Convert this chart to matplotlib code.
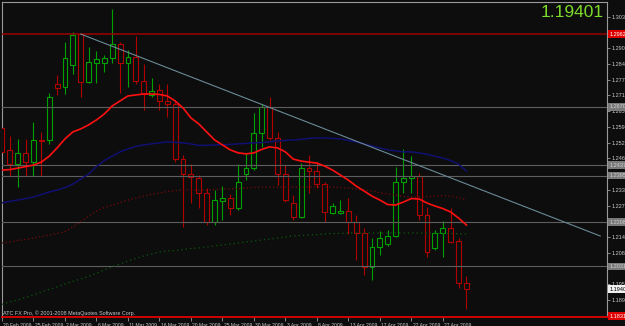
import matplotlib
matplotlib.use("Agg")
import matplotlib.pyplot as plt
import matplotlib.transforms as mtrans
from matplotlib.transforms import blended_transform_factory

# ---------------- data ----------------
opens = [1.2586, 1.2498, 1.2441, 1.2486, 1.2449, 1.2538, 1.2538, 1.2761, 1.2749, 1.2838,
         1.2961, 1.2769, 1.2845, 1.2845, 1.2865, 1.2921, 1.2845, 1.2869, 1.2774, 1.2718,
         1.2738, 1.2694, 1.2681, 1.2460, 1.2401, 1.2384, 1.2324, 1.2208, 1.2293, 1.2306,
         1.2266, 1.2400, 1.2424, 1.2564, 1.2669, 1.2547, 1.2401, 1.2284, 1.2230, 1.2427,
         1.2413, 1.2360, 1.2246, 1.2246, 1.2253, 1.2210, 1.2164, 1.2030, 1.2108, 1.2121,
         1.2154, 1.2371, 1.2384, 1.2395, 1.2237, 1.2104, 1.2164, 1.2184, 1.2134, 1.1964]
highs = [1.2602, 1.2554, 1.2542, 1.2542, 1.2610, 1.2570, 1.2726, 1.2798, 1.2929, 1.2971,
         1.2963, 1.2911, 1.2894, 1.2878, 1.3061, 1.2931, 1.2898, 1.2954, 1.2841, 1.2785,
         1.2761, 1.2761, 1.2698, 1.2477, 1.2441, 1.2397, 1.2345, 1.2337, 1.2353, 1.2321,
         1.2440, 1.2484, 1.2645, 1.2682, 1.2711, 1.2571, 1.2437, 1.2317, 1.2444, 1.2477,
         1.2451, 1.2369, 1.2284, 1.2297, 1.2304, 1.2237, 1.2184, 1.2144, 1.2174, 1.2177,
         1.2431, 1.2502, 1.2473, 1.2405, 1.2269, 1.2177, 1.2214, 1.2265, 1.2145, 1.1993]
lows = [1.2473, 1.2393, 1.2349, 1.2393, 1.2393, 1.2393, 1.2522, 1.2718, 1.2721, 1.2802,
        1.2711, 1.2765, 1.2765, 1.2811, 1.2845, 1.2725, 1.2749, 1.2762, 1.2658, 1.2709,
        1.2658, 1.2630, 1.2449, 1.2188, 1.2286, 1.2266, 1.2197, 1.2197, 1.2217, 1.2237,
        1.2257, 1.2377, 1.2417, 1.2511, 1.2538, 1.2357, 1.2289, 1.2217, 1.2225, 1.2324,
        1.2344, 1.2210, 1.2241, 1.2241, 1.2161, 1.2057, 1.1997, 1.1977, 1.2077, 1.2113,
        1.2148, 1.2324, 1.2324, 1.2217, 1.2070, 1.2097, 1.2070, 1.2124, 1.1943, 1.1859]
closes = [1.2490, 1.2441, 1.2486, 1.2449, 1.2538, 1.2534, 1.2711, 1.2747, 1.2865, 1.2958,
          1.2769, 1.2849, 1.2861, 1.2865, 1.2921, 1.2845, 1.2869, 1.2774, 1.2722, 1.2734,
          1.2694, 1.2681, 1.2460, 1.2401, 1.2388, 1.2324, 1.2208, 1.2297, 1.2306, 1.2264,
          1.2371, 1.2424, 1.2564, 1.2669, 1.2544, 1.2401, 1.2297, 1.2230, 1.2427, 1.2413,
          1.2360, 1.2250, 1.2273, 1.2253, 1.2210, 1.2164, 1.2030, 1.2110, 1.2144, 1.2153,
          1.2371, 1.2387, 1.2395, 1.2237, 1.2090, 1.2166, 1.2184, 1.2130, 1.1964, 1.19401]

ma_fast = [1.2417, 1.2419, 1.2425, 1.2431, 1.2437, 1.2449, 1.2473, 1.2506, 1.2542, 1.2570,
           1.2582, 1.2598, 1.2618, 1.2642, 1.2674, 1.2694, 1.2714, 1.2718, 1.2722, 1.2722,
           1.2720, 1.2714, 1.2694, 1.2666, 1.2626, 1.2602, 1.2570, 1.2538, 1.2518, 1.2498,
           1.2486, 1.2482, 1.2486, 1.2500, 1.2510, 1.2506, 1.2490, 1.2461, 1.2453, 1.2449,
           1.2445, 1.2433, 1.2417, 1.2397, 1.2377, 1.2353, 1.2333, 1.2313, 1.2297, 1.2279,
           1.2277, 1.2289, 1.2303, 1.2301, 1.2285, 1.2273, 1.2263, 1.2249, 1.2225, 1.2197]
ma_mid = [1.2286, 1.2292, 1.2297, 1.2303, 1.2309, 1.2319, 1.2329, 1.2337, 1.2347, 1.2361,
          1.2381, 1.2401, 1.2431, 1.2455, 1.2473, 1.2490, 1.2502, 1.2512, 1.2518, 1.2522,
          1.2526, 1.2530, 1.2528, 1.2526, 1.2522, 1.2516, 1.2516, 1.2518, 1.2518, 1.2520,
          1.2522, 1.2524, 1.2526, 1.2528, 1.2530, 1.2534, 1.2536, 1.2538, 1.2540, 1.2544,
          1.2546, 1.2546, 1.2544, 1.2542, 1.2536, 1.2530, 1.2522, 1.2514, 1.2506, 1.2498,
          1.2494, 1.2490, 1.2490, 1.2486, 1.2480, 1.2473, 1.2465, 1.2455, 1.2441, 1.2413]
ma_slow = [1.2125, 1.2129, 1.2135, 1.2139, 1.2145, 1.2151, 1.2157, 1.2163, 1.2171, 1.2189,
           1.2209, 1.2233, 1.2253, 1.2267, 1.2277, 1.2287, 1.2297, 1.2305, 1.2313, 1.2321,
           1.2325, 1.2331, 1.2335, 1.2337, 1.2337, 1.2337, 1.2337, 1.2339, 1.2341, 1.2341,
           1.2343, 1.2345, 1.2347, 1.2349, 1.2349, 1.2349, 1.2349, 1.2349, 1.2349, 1.2349,
           1.2349, 1.2349, 1.2349, 1.2347, 1.2345, 1.2341, 1.2337, 1.2333, 1.2327, 1.2321,
           1.2317, 1.2311, 1.2309, 1.2309, 1.2311, 1.2313, 1.2315, 1.2313, 1.2307, 1.2297]
ma_long = [1.1879, 1.1889, 1.1897, 1.1907, 1.1917, 1.1929, 1.1939, 1.1949, 1.1961, 1.1971,
           1.1981, 1.1991, 1.2003, 1.2017, 1.2029, 1.2041, 1.2053, 1.2063, 1.2073, 1.2081,
           1.2089, 1.2093, 1.2095, 1.2099, 1.2103, 1.2105, 1.2109, 1.2113, 1.2117, 1.2121,
           1.2125, 1.2129, 1.2133, 1.2137, 1.2141, 1.2145, 1.2149, 1.2153, 1.2155, 1.2157,
           1.2159, 1.2161, 1.2163, 1.2163, 1.2165, 1.2165, 1.2165, 1.2165, 1.2165, 1.2165,
           1.2165, 1.2165, 1.2165, 1.2165, 1.2165, 1.2164, 1.2163, 1.2163, 1.2162, 1.2161]

trend_x = [10, 76]
trend_y = [1.2962, 1.2153]

red_level = 1.2962
gray_levels = [1.2670, 1.2437, 1.2395, 1.2208, 1.2031]
bottom_level = 1.1831
current_price = 1.19401

price_ticks = [1.30315, 1.29684, 1.29054, 1.28423, 1.27793, 1.27162, 1.26532, 1.25901,
               1.25270, 1.24640, 1.24009, 1.23379, 1.22748, 1.22118, 1.21487, 1.20857,
               1.20226, 1.19596, 1.18965]
date_pos = [0, 4, 8, 12, 16, 20, 24, 28, 32, 36, 40, 44, 48, 52, 56]
date_labels = ['20 Feb 2009', '25 Feb 2009', '2 Mar 2009', '6 Mar 2009', '11 Mar 2009',
               '16 Mar 2009', '20 Mar 2009', '25 Mar 2009', '30 Mar 2009', '3 Apr 2009',
               '8 Apr 2009', '13 Apr 2009', '17 Apr 2009', '22 Apr 2009', '27 Apr 2009']

# ---------------- style ----------------
BG = '#0d0d0d'
BULL = '#00a000'
BEAR = '#b00000'
AXC = '#9a9a9a'
TXT = '#c8c8c8'
plt.rcParams['font.family'] = ['Liberation Sans', 'DejaVu Sans']

W, H = 625, 326
fig = plt.figure(figsize=(W / 100, H / 100), dpi=100, facecolor=BG)
ax = fig.add_axes([2 / W, 1 - 317.3 / H, 605 / W, 315.8 / H], facecolor=BG)
ax.set_xlim(0.038, 76.86)
ax.set_ylim(1.18273, 1.30924)

n = len(opens)
xs = list(range(n))

for i in xs:
    c = BULL if closes[i] >= opens[i] else BEAR
    ax.vlines(i, lows[i], highs[i], color=c, lw=0.8, zorder=2)
for i in xs:
    c = BULL if closes[i] >= opens[i] else BEAR
    lo = min(opens[i], closes[i])
    h = abs(closes[i] - opens[i])
    ax.bar(i, max(h, 0.00005), bottom=lo, width=0.62, facecolor=BG, edgecolor=c,
           linewidth=0.8, zorder=3)

ax.axhline(red_level, color='#9a0000', lw=1.1, zorder=4)
for lv in gray_levels:
    ax.axhline(lv, color='#5e5e5e', lw=0.8, zorder=4)

ax.plot(xs, ma_long, color='#0a5a0a', lw=0.9, ls=(0, (1, 2.5)), zorder=5)
ax.plot(xs, ma_slow, color='#7a0a0a', lw=0.9, ls=(0, (1, 2)), zorder=5)
ax.plot(xs, ma_mid, color='#101070', lw=1.1, zorder=5)
ax.plot(xs, ma_fast, color='#ff1010', lw=1.2, zorder=6)

ax.plot(trend_x, trend_y, color='#6a8a96', lw=0.8, zorder=7)

for s in ['top', 'left', 'right']:
    ax.spines[s].set_color(AXC)
    ax.spines[s].set_linewidth(0.8)
ax.spines['bottom'].set_color('#d00000')
ax.spines['bottom'].set_linewidth(1.4)

# price ticks: labels hidden where a value box covers them (as in the reference)
box_levels = [red_level] + gray_levels + [current_price, bottom_level]
ppx = (1.30924 - 1.18273) / 315.8
shown = [v for v in price_ticks if all(abs(v - b) / ppx > 3.0 for b in box_levels)]
ax.yaxis.tick_right()
ax.set_yticks(price_ticks)
ax.set_yticklabels([f'{v:.5f}' if v in shown else '' for v in price_ticks])
ax.tick_params(axis='y', colors=AXC, labelcolor=TXT, labelsize=4, length=2, width=0.6, pad=1.5)

ax.set_xticks(date_pos)
ax.set_xticklabels(date_labels, ha='left')
ax.tick_params(axis='x', colors=AXC, labelcolor=TXT, labelsize=3.6, length=3, width=0.6, pad=0.8)
offset = mtrans.ScaledTranslation(1.2 / 100, 0, fig.dpi_scale_trans)
for lbl in ax.get_xticklabels():
    lbl.set_transform(lbl.get_transform() + offset)

bt = blended_transform_factory(ax.transAxes, ax.transData)
def box(level, fc, tc):
    ax.text(1.0 + 2.5 / 605, level, f'{level:.5f}', transform=bt, fontsize=4, color=tc,
            va='center', ha='left', clip_on=False, zorder=10,
            bbox=dict(boxstyle='square,pad=0.25', fc=fc, ec='none'))
box(red_level, '#e00000', '#ffffff')
for lv in gray_levels:
    box(lv, '#7a7a7a', '#d0d0d0')
box(current_price, '#f0f0f0', '#000000')
box(bottom_level, '#e00000', '#ffffff')

fig.text(604 / W, 1 - 17 / H, f'{current_price:.5f}', color='#7ddc2a', fontsize=12.5,
         ha='right', va='baseline')
fig.text(3 / W, 1 - 313 / H, 'ATC FX Pro, \u00a9 2001-2008 MetaQuotes Software Corp.',
         color=TXT, fontsize=3.9, ha='left', va='center')

fig.savefig('out.png', dpi=100, facecolor=BG)
